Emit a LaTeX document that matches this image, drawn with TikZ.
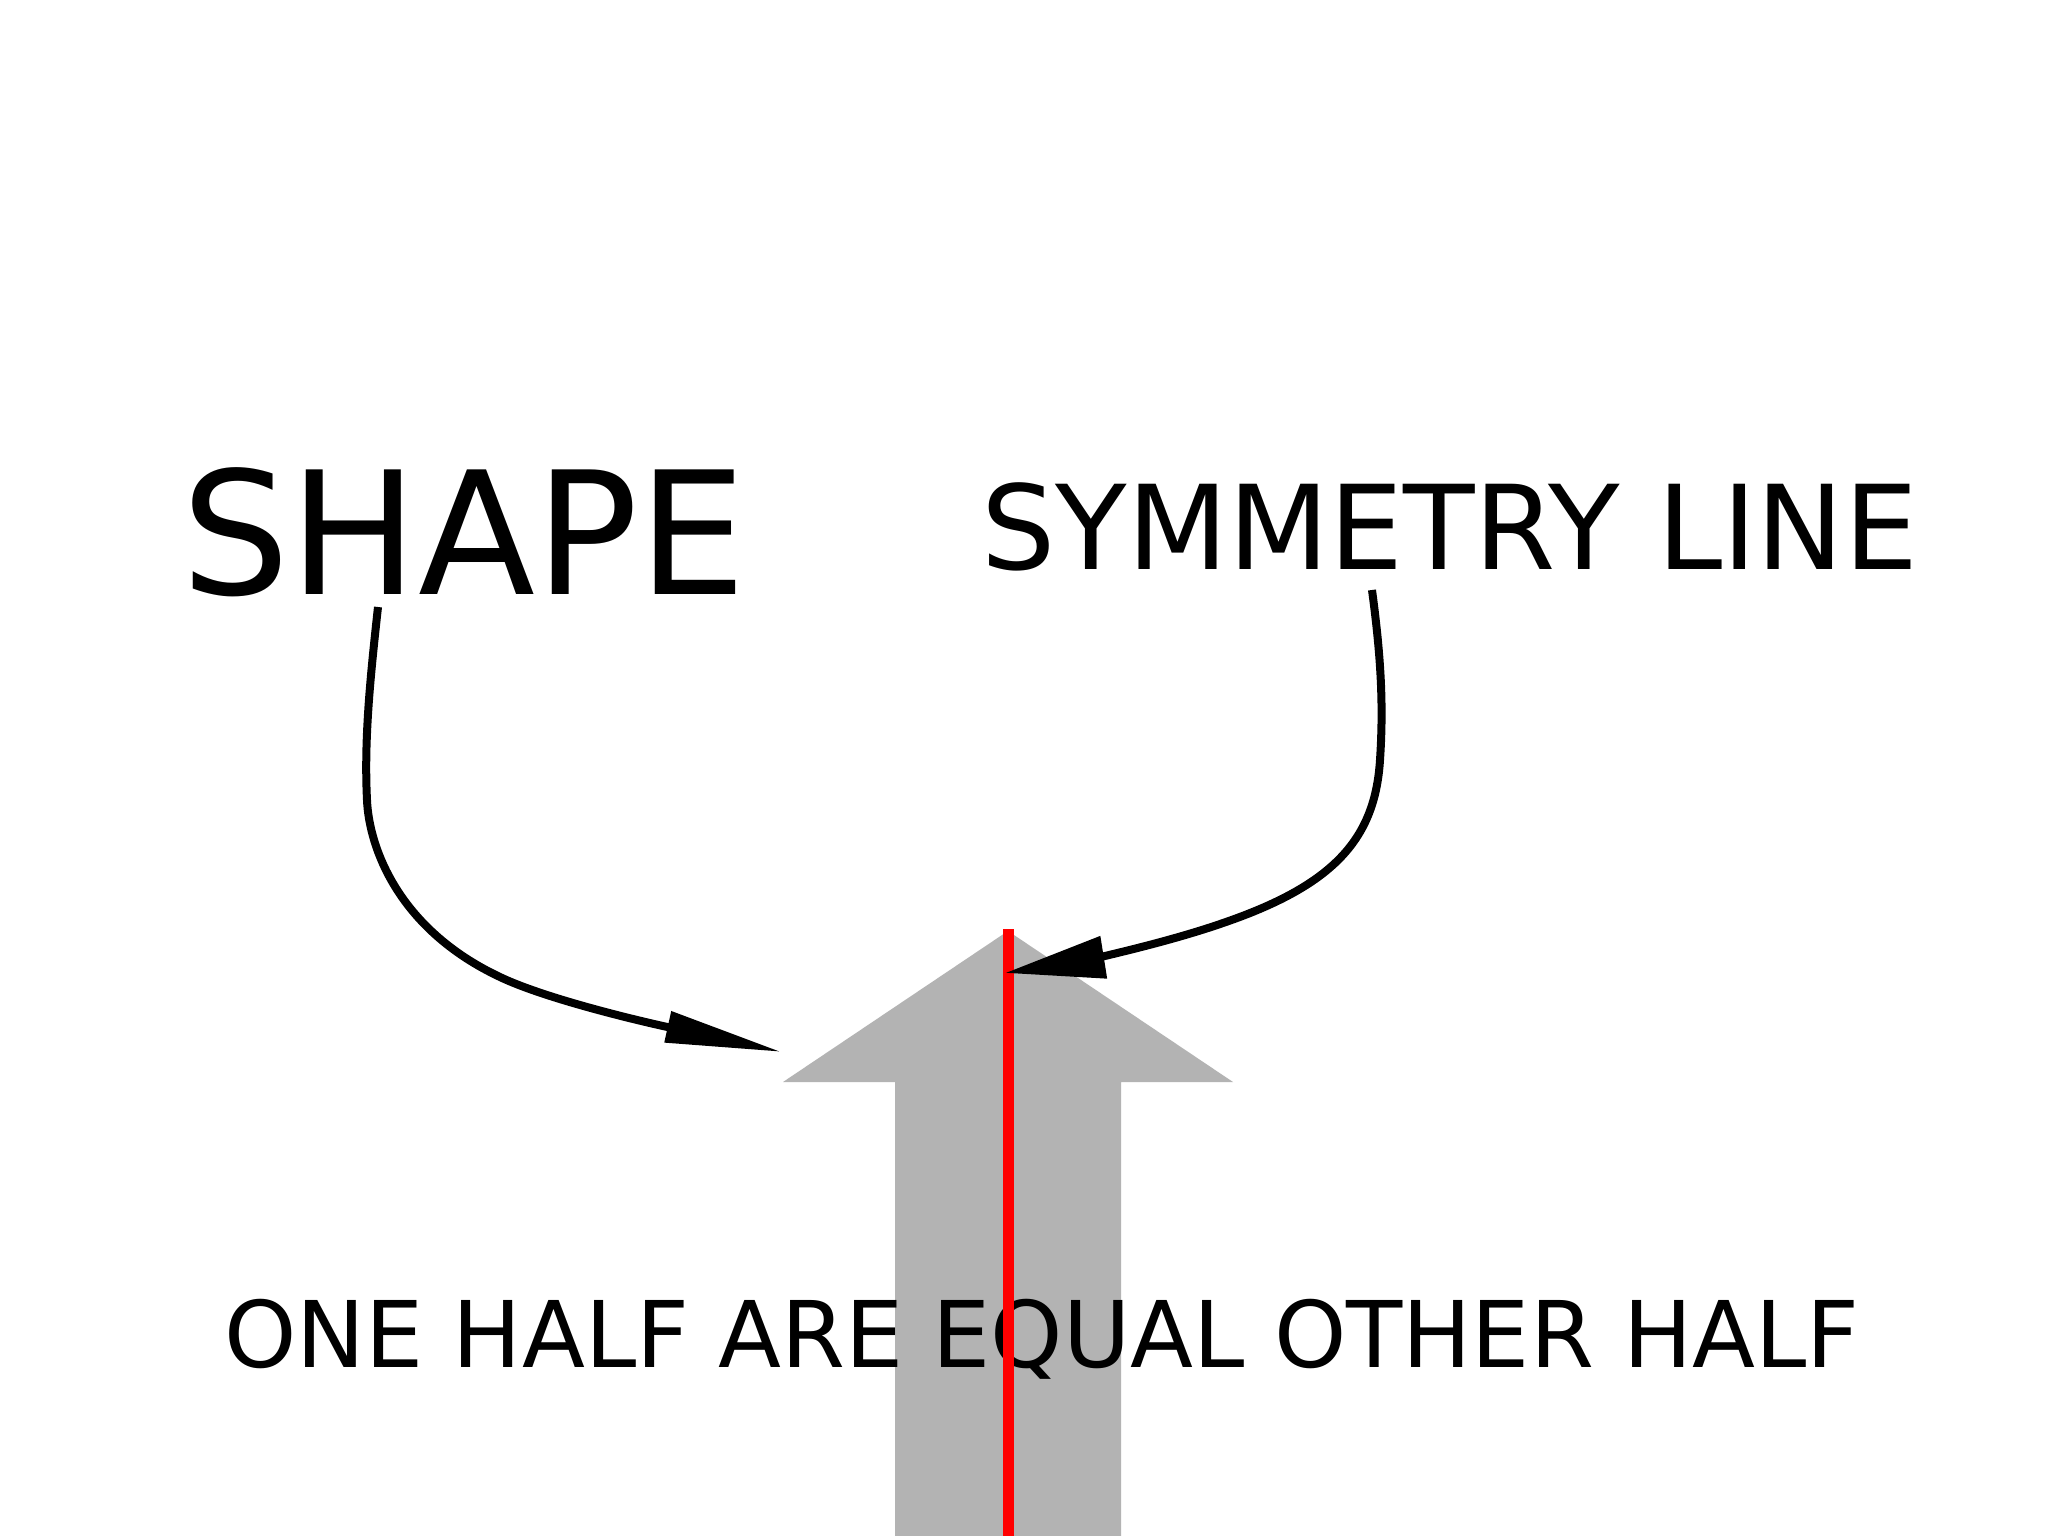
\documentclass[tikz,border=0pt]{standalone}
\usepackage{fontspec}
\setmainfont{DejaVu Sans}
\usetikzlibrary{arrows.meta}
\definecolor{shapegray}{RGB}{179,179,179}
\definecolor{symred}{RGB}{255,0,0}
\tikzset{
  lbl/.style={inner sep=0pt, outer sep=0pt, anchor=base, text=black},
  pointer/.style={draw=black, line width=8pt},
}
\begin{document}
\begin{tikzpicture}[x=1pt,y=-1pt]
\useasboundingbox (0,0) rectangle (2048,1536);
\fill[white] (0,0) rectangle (2048,1536);
% gray arrow shape
\fill[shapegray] (1008,931) -- (1233,1082) -- (1121,1082) -- (1121,1536)
  -- (895,1536) -- (895,1082) -- (783,1082) -- cycle;
% labels
\node[lbl] (shape) at (464,594) {\fontsize{171}{171}\selectfont SHAPE};
\node[lbl] (symline) at (1450,569) {\fontsize{117}{117}\selectfont SYMMETRY LINE};
\node[lbl] (halves) at (1042,1367) {\fontsize{92}{92}\selectfont ONE HALF ARE EQUAL OTHER HALF};
% symmetry line
\coordinate (axtop) at (1008,929);
\coordinate (axbot) at (1008,1536);
\draw[symred, line width=11pt] (axtop) -- (axbot);
% pointers
\coordinate (s1) at (378,607);
\coordinate (t1) at (782,1052);
\coordinate (s2) at (1372,590);
\coordinate (t2) at (1005,973);
\draw[pointer, -{Triangle[length=117pt,width=30pt]}]
  (s1) .. controls (370,680) and (364,740) .. (367,800)
       .. controls (369,847) and (398,929) .. (500,977)
       .. controls (563,1007) and (714,1037) .. (t1);
\draw[pointer, -{Triangle[length=100pt,width=41pt]}]
  (s2) .. controls (1380,650) and (1384,700) .. (1380,760)
       .. controls (1375,839) and (1334,885) .. (1223,923)
       .. controls (1157,946) and (1074,962) .. (t2);
\end{tikzpicture}
\end{document}
